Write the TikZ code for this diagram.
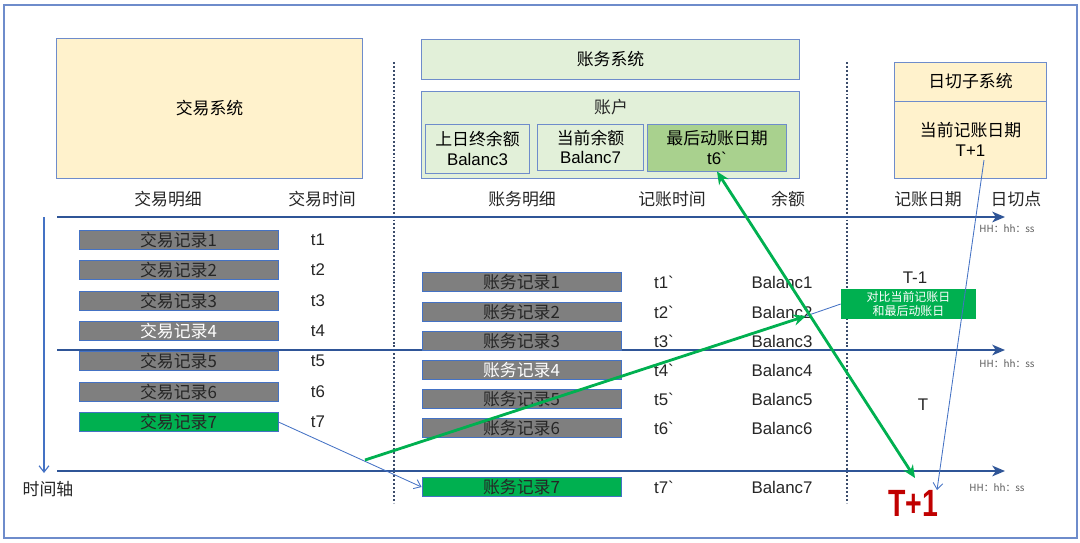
\documentclass[tikz,border=0pt]{standalone}
\usepackage{fontspec}
\setmainfont{Liberation Sans}
\newfontfamily\cjk{Noto Sans CJK SC}
\usetikzlibrary{arrows.meta}

\definecolor{sand}{HTML}{FFF2CC}
\definecolor{mint}{HTML}{E2F0D9}
\definecolor{leaf}{HTML}{A9D18E}
\definecolor{bargrey}{HTML}{7F7F7F}
\definecolor{gogreen}{HTML}{00B050}
\definecolor{axisblue}{HTML}{2F5597}
\definecolor{lineblue}{HTML}{4472C4}
\definecolor{boxline}{HTML}{6E8CCB}
\definecolor{divblue}{HTML}{3B4C6B}
\definecolor{darkred}{HTML}{C00000}
\definecolor{hhgrey}{HTML}{595959}
\definecolor{ink}{HTML}{262626}

\tikzset{
  frame/.style={draw=boxline, line width=0.8pt},
  sysbox/.style={draw=boxline, line width=0.7pt, inner sep=0pt, align=center,
    font=\fontsize{12}{14}\selectfont},
  recbar/.style={draw=lineblue, line width=0.6pt, fill=bargrey, inner sep=0pt,
    minimum width=4.975cm, minimum height=0.46cm, text=ink,
    font=\cjk\fontsize{12}{14}\selectfont},
  okbar/.style={recbar, fill=gogreen},
  head/.style={inner sep=0pt, text=ink, font=\cjk\fontsize{12}{14}\selectfont},
  val/.style={inner sep=0pt, text=ink, font=\fontsize{12}{14}\selectfont},
  hhlabel/.style={inner sep=0pt, text=hhgrey, font=\cjk\fontsize{7}{8}\selectfont},
  axis/.style={draw=axisblue, line width=1.6pt, -{Stealth[length=9pt, width=7.5pt, inset=2.5pt]}},
  timeaxis/.style={draw=lineblue, line width=0.8pt, -{Straight Barb[length=4.5pt, width=7pt]}},
  thinarrow/.style={draw=lineblue, line width=0.6pt, -{Straight Barb[length=4.5pt, width=7pt]}},
  greenarrow/.style={draw=gogreen, line width=2pt},
  divider/.style={draw=divblue, line width=1.6pt, dash pattern=on 1.4pt off 1.4pt}
}

\begin{document}
\begin{tikzpicture}[x=0.025cm, y=-0.025cm]
    \useasboundingbox (0,0) rectangle (1080,542);
    \draw[frame] (4,5) rectangle (1077,538);

    % systems
    \node[sysbox, fill=sand, minimum width=7.625cm, minimum height=3.475cm] (trade) at (209.5,108.5) {\cjk 交易系统};
    \node[sysbox, fill=mint, minimum width=9.425cm, minimum height=1cm] (acctsys) at (610.5,59) {\cjk 账务系统};
    \node[sysbox, fill=mint, minimum width=9.425cm, minimum height=2.175cm] (account) at (610.5,134.5) {};
    \node[head] (accountlbl) at (611,107) {账户};
    \node[sysbox, fill=mint, minimum width=2.575cm, minimum height=1.225cm] (prevbal) at (477.5,148.5) {{\cjk 上日终余额}\\Balanc3};
    \node[sysbox, fill=mint, minimum width=2.625cm, minimum height=1.15cm] (curbal) at (590.5,147) {{\cjk 当前余额}\\Balanc7};
    \node[sysbox, fill=leaf, minimum width=3.45cm, minimum height=1.175cm] (lastdate) at (717,147.5) {{\cjk 最后动账日期}\\t6\textasciigrave};
    \node[sysbox, fill=sand, minimum width=3.775cm, minimum height=0.975cm] (cutsys) at (970.5,81.5) {\cjk 日切子系统};
    \node[sysbox, fill=sand, minimum width=3.775cm, minimum height=1.925cm, font=\fontsize{12}{14.5}\selectfont] (curdate) at (970.5,139.5) {{\cjk 当前记账日期}\\T+1};

    % column heads
    \node[head] (txdetail) at (168,199) {交易明细};
    \node[head] (txtime) at (322,199) {交易时间};
    \node[head] (acdetail) at (522,199) {账务明细};
    \node[head] (actime) at (672,199) {记账时间};
    \node[head] (balance) at (788,199) {余额};
    \node[head] (bookdate) at (928,199) {记账日期};
    \node[head] (cutpoint) at (1016,199) {日切点};

    % dividers and axes
    \draw[divider] (394,62) -- (394,503);
    \draw[divider] (847,62) -- (847,503);
    \draw[axis] (57,217) -- (1005,217);
    \draw[axis] (57,350) -- (1005,350);
    \draw[axis] (57,471) -- (1005,471);
    \node[hhlabel] (hh1) at (1007,229) {HH：hh：ss};
    \node[hhlabel] (hh2) at (1007,364) {HH：hh：ss};
    \node[hhlabel] (hh3) at (997,488) {HH：hh：ss};
    \draw[timeaxis] (44,217) -- (44,473);
    \node[head] (timelbl) at (48,489) {时间轴};

    % trade records
    \node[recbar] (tx1) at (178.5,240) {交易记录1};
    \node[recbar] (tx2) at (178.5,270) {交易记录2};
    \node[recbar] (tx3) at (178.5,301) {交易记录3};
    \node[recbar, text=white] (tx4) at (178.5,331) {交易记录4};
    \node[recbar] (tx5) at (178.5,361) {交易记录5};
    \node[recbar] (tx6) at (178.5,392) {交易记录6};
    \node[okbar] (tx7) at (178.5,422) {交易记录7};
    \node[val] (tt1) at (318,240) {t1};
    \node[val] (tt2) at (318,270) {t2};
    \node[val] (tt3) at (318,301) {t3};
    \node[val] (tt4) at (318,331) {t4};
    \node[val] (tt5) at (318,361) {t5};
    \node[val] (tt6) at (318,392) {t6};
    \node[val] (tt7) at (318,422) {t7};

    % account records
    \node[recbar] (ac1) at (521.5,282) {账务记录1};
    \node[recbar] (ac2) at (521.5,312) {账务记录2};
    \node[recbar] (ac3) at (521.5,341) {账务记录3};
    \node[recbar, text=white] (ac4) at (521.5,370) {账务记录4};
    \node[recbar] (ac5) at (521.5,399) {账务记录5};
    \node[recbar] (ac6) at (521.5,428) {账务记录6};
    \node[okbar] (ac7) at (521.5,487) {账务记录7};
    \node[val] (at1) at (664,282) {t1\textasciigrave};
    \node[val] (at2) at (664,312) {t2\textasciigrave};
    \node[val] (at3) at (664,341) {t3\textasciigrave};
    \node[val] (at4) at (664,370) {t4\textasciigrave};
    \node[val] (at5) at (664,399) {t5\textasciigrave};
    \node[val] (at6) at (664,428) {t6\textasciigrave};
    \node[val] (at7) at (664,487) {t7\textasciigrave};
    \node[val] (bal1) at (782,282) {Balanc1};
    \node[val] (bal2) at (782,312) {Balanc2};
    \node[val] (bal3) at (782,341) {Balanc3};
    \node[val] (bal4) at (782,370) {Balanc4};
    \node[val] (bal5) at (782,399) {Balanc5};
    \node[val] (bal6) at (782,428) {Balanc6};
    \node[val] (bal7) at (782,487) {Balanc7};

    % day cut column
    \node[val] (tprev) at (915,278) {T-1};
    \node[fill=gogreen, text=white, inner sep=0pt, minimum width=3.375cm, minimum height=0.75cm,
      align=center, font=\cjk\fontsize{8.5}{10}\selectfont] (compare) at (908.5,304) {对比当前记账日\\和最后动账日};
    \node[val] (tnow) at (923,405) {T};
    \node[inner sep=0pt, text=darkred, font=\bfseries\fontsize{27}{30}\selectfont] (tnext) at (913,503) {\scalebox{0.75}[1]{T+1}};

    % connectors
    \coordinate (gstart) at (365,460);
    \coordinate (gtip) at (806,316);
    \coordinate (gend) at (915,478);
    \coordinate (cutfrom) at (984,160);
    \coordinate (cutto) at (937,490);
    \draw[thinarrow] (tx7.east) -- (ac7.west);
    \draw[greenarrow, -{Stealth[length=9pt, width=8pt]}] (gstart) -- (gtip);
    \draw[draw=lineblue, line width=0.6pt] (compare.west) -- (gtip);
    \draw[greenarrow, {Stealth[length=9pt, width=8pt]}-{Stealth[length=9pt, width=8pt]}] (lastdate.south) -- (gend);
    \draw[thinarrow] (cutfrom) -- (cutto);
\end{tikzpicture}
\end{document}
